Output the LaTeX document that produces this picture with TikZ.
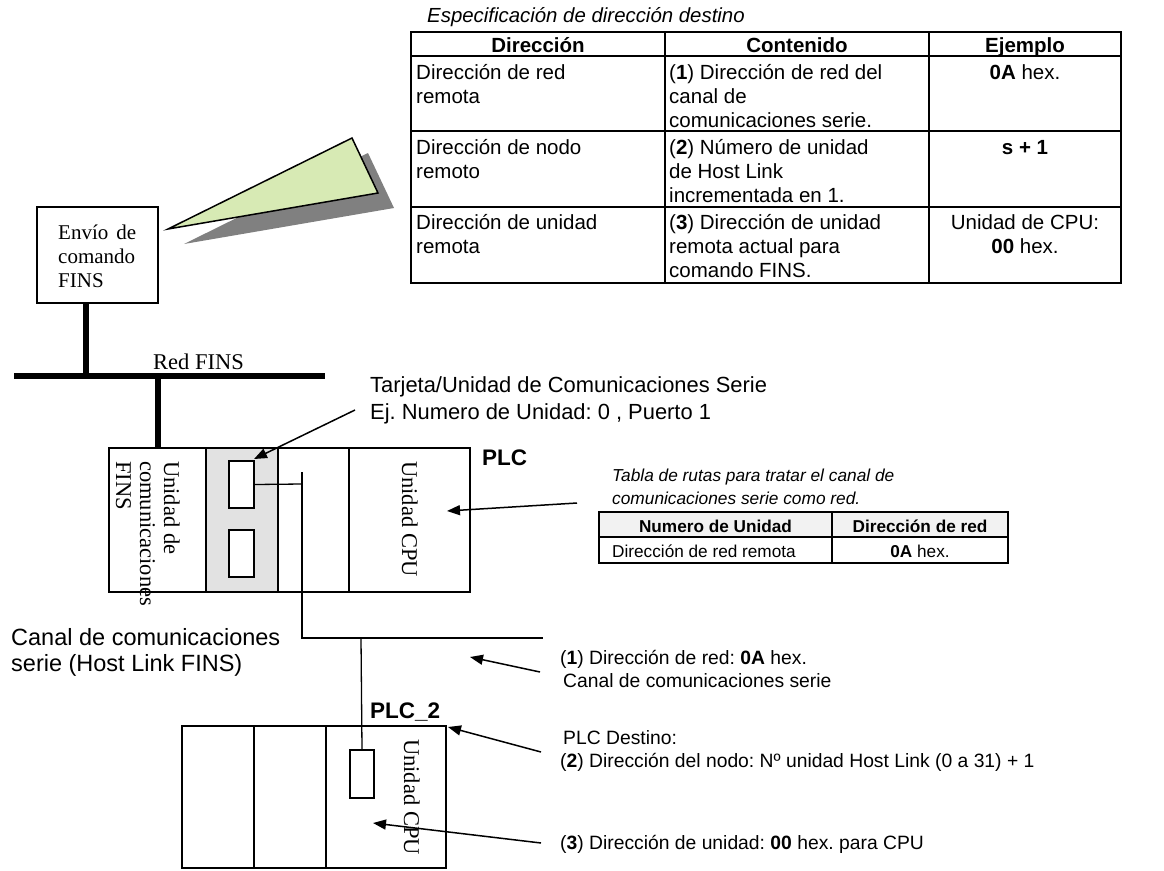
\documentclass[tikz,border=0pt]{standalone}
\usepackage{fontspec}
\newfontfamily\arial{Liberation Sans}
\newfontfamily\tnr{Liberation Serif}
\usetikzlibrary{arrows.meta}
\definecolor{callgreen}{RGB}{215,234,180}
\definecolor{shadowgray}{RGB}{128,128,128}
\definecolor{hdrgray}{RGB}{242,242,242}
\definecolor{cardgray}{RGB}{226,226,226}
\newcommand\fsz[2]{\fontsize{#1}{#2}\selectfont}
\newcommand\mll[1]{\begin{tabular}[t]{@{}l@{}}#1\end{tabular}}
\newcommand\mlc[1]{\begin{tabular}[t]{@{}c@{}}#1\end{tabular}}
\frenchspacing
\begin{document}
\frenchspacing
\begin{tikzpicture}[x=1pt,y=-1pt,
  txt/.style={inner sep=0pt, anchor=base west},
  tabtxt/.style={txt, font=\arial\fsz{20.5}{24}},
  rtxt/.style={txt, font=\arial\fsz{17.2}{23}},
  lbl/.style={txt, font=\arial\fsz{21.9}{27}},
  lblc/.style={txt, font=\arial\fsz{23.5}{26}},
  lblb/.style={txt, font=\arial\fsz{19.3}{23.5}},
  ser/.style={txt, font=\tnr\fsz{22.5}{24}},
  plcname/.style={txt, font=\arial\bfseries\fsz{22.5}{26}},
  tabline/.style={line width=2pt},
  rack/.style={line width=1.8pt},
  thin/.style={line width=1.3pt},
  bus/.style={line width=5.5pt},
  callarrow/.style={line width=1.5pt, -{Triangle[length=13pt,width=10pt]}},
]
\useasboundingbox (0,0) rectangle (1164,870);

% ---------- top table ----------
\node[txt, font=\arial\itshape\fsz{20.4}{24}] (ttitle) at (427,23) {Especificación de dirección destino};
\draw[tabline] (411,32) rectangle (1121,283);
\draw[tabline] (411,56) -- (1121,56) (411,131) -- (1121,131) (411,207) -- (1121,207)
  (665,32) -- (665,283) (929,32) -- (929,283);
\node[tabtxt, anchor=base] (h1) at (538,52.5) {\bfseries Dirección};
\node[tabtxt, anchor=base] (h2) at (797,52.5) {\bfseries Contenido};
\node[tabtxt, anchor=base] (h3) at (1025,52.5) {\bfseries Ejemplo};
\node[tabtxt] (r1a) at (416,79) {\mll{Dirección de red\\remota}};
\node[tabtxt] (r1b) at (669,79) {\mll{(\textbf{1}) Dirección de red del\\canal de\\comunicaciones serie.}};
\node[tabtxt, anchor=base] (r1c) at (1025,79) {\textbf{0A} hex.};
\node[tabtxt] (r2a) at (416,154) {\mll{Dirección de nodo\\remoto}};
\node[tabtxt] (r2b) at (669,154) {\mll{(\textbf{2}) Número de unidad\\de Host Link\\incrementada en 1.}};
\node[tabtxt, anchor=base] (r2c) at (1025,154) {\textbf{s + 1}};
\node[tabtxt] (r3a) at (416,229) {\mll{Dirección de unidad\\remota}};
\node[tabtxt] (r3b) at (669,229) {\mll{(\textbf{3}) Dirección de unidad\\remota actual para\\comando FINS.}};
\node[tabtxt, anchor=base] (r3c) at (1025,229) {\mlc{Unidad de CPU:\\\textbf{00} hex.}};

% ---------- callout ----------
\fill[shadowgray] (184,244) -- (368,153) -- (394,208) -- cycle;
\draw[line width=1.5pt, fill=callgreen, line join=miter] (168,229) -- (352,138) -- (378,193) -- cycle;

% ---------- sender ----------
\node[draw, line width=1.5pt, minimum width=121pt, minimum height=96pt, inner sep=0pt] (env) at (97.5,255) {};
\node[txt, font=\tnr\fsz{21}{24}] (envt) at (58,239) {\mll{\makebox[78pt][s]{Envío de}\\comando\\FINS}};
\coordinate (busL) at (14,376);
\coordinate (busR) at (325,376);
\coordinate (envdrop) at (86,376);
\coordinate (plcdrop) at (158,376);
\draw[bus] (busL) -- (busR);
\draw[bus] (env.south -| envdrop) -- (envdrop);
\draw[bus] (plcdrop) -- (158,449);
\node[ser] (redfins) at (153,369) {Red FINS};

% ---------- PLC rack ----------
\fill[cardgray] (206,448) rectangle (278,592);
\draw[rack] (109,448) rectangle (470,592);
\draw[rack] (206,448) -- (206,592) (278,448) -- (278,592) (349,448) -- (349,592);
\node[draw, thin, fill=white, minimum width=25pt, minimum height=47pt, inner sep=0pt] (port1) at (241.5,484.5) {};
\node[draw, thin, fill=white, minimum width=25pt, minimum height=47pt, inner sep=0pt] (port2) at (241.5,553.5) {};
\node[ser, rotate=-90] (finsu) at (164,461) {\mll{Unidad de\\comunicaciones\\FINS}};
\node[ser, rotate=-90] (cpu1) at (402,461) {Unidad CPU};
\node[plcname] (plc) at (482,465) {PLC};

% serial wiring
\coordinate (j1) at (302,484);
\coordinate (j1top) at (302,472);
\coordinate (j2) at (302,638);
\coordinate (serR) at (543,638);
\coordinate (j3) at (361,638);
\draw[thin] (port1.east) -- (j1);
\draw[thin] (j1top) -- (j2) -- (serR);
\node[draw, thin, minimum width=24pt, minimum height=48pt, inner sep=0pt] (port3) at (362,774) {};
\draw[thin] (j3) -- (port3.north);

% ---------- PLC_2 rack ----------
\draw[rack] (182,726) rectangle (446,868);
\draw[rack] (254,726) -- (254,868) (326,726) -- (326,868);
\node[ser, rotate=-90] (cpu2) at (404,739) {Unidad CPU};
\node[plcname] (plc2) at (370,718) {PLC\_2};

% ---------- labels ----------
\node[lbl] (tarj) at (370,392) {\mll{Tarjeta/Unidad de Comunicaciones Serie\\Ej. Numero de Unidad: 0 , Puerto 1}};
\node[lblc] (canal) at (11,645) {\mll{Canal de comunicaciones\\serie (Host Link FINS)}};
\node[lblb] (lab1) at (560,664) {\mll{(\textbf{1}) Dirección de red: \textbf{0A} hex.\\\hspace{3pt}Canal de comunicaciones serie}};
\node[lblb] (lab2) at (560,744) {\mll{\hspace{3pt}PLC Destino:\\(\textbf{2}) Dirección del nodo: Nº unidad Host Link (0 a 31) + 1}};
\node[lblb] (lab3) at (560,849) {(\textbf{3}) Dirección de unidad: \textbf{00} hex. para CPU};

% ---------- routing table ----------
\node[txt, font=\arial\itshape\fsz{17.3}{23}] (rtitle) at (612,481) {\mll{Tabla de rutas para tratar el canal de\\comunicaciones serie como red.}};
\fill[hdrgray] (599,512) rectangle (1008,537);
\draw[tabline] (599,512) rectangle (1008,563);
\draw[tabline] (599,537) -- (1008,537) (832,512) -- (832,563);
\node[rtxt, anchor=base] (rh1) at (715.5,532) {\bfseries Numero de Unidad};
\node[rtxt, anchor=base] (rh2) at (920,532) {\bfseries Dirección de red};
\node[rtxt] (rr1) at (612,557) {Dirección de red remota};
\node[rtxt, anchor=base] (rr2) at (920,557) {\textbf{0A} hex.};

% ---------- arrows ----------
\coordinate (a1s) at (355,410);
\coordinate (a1e) at (254,459);
\coordinate (a2s) at (577,503);
\coordinate (a2e) at (447,511);
\coordinate (a3s) at (540,672);
\coordinate (a3e) at (470,657);
\coordinate (a4s) at (541,752);
\coordinate (a4e) at (448,727);
\coordinate (a5s) at (541,843);
\coordinate (a5e) at (373,823);
\draw[callarrow] (a1s) -- (a1e);
\draw[callarrow] (a2s) -- (a2e);
\draw[callarrow] (a3s) -- (a3e);
\draw[callarrow] (a4s) -- (a4e);
\draw[callarrow] (a5s) -- (a5e);
\end{tikzpicture}
\end{document}
